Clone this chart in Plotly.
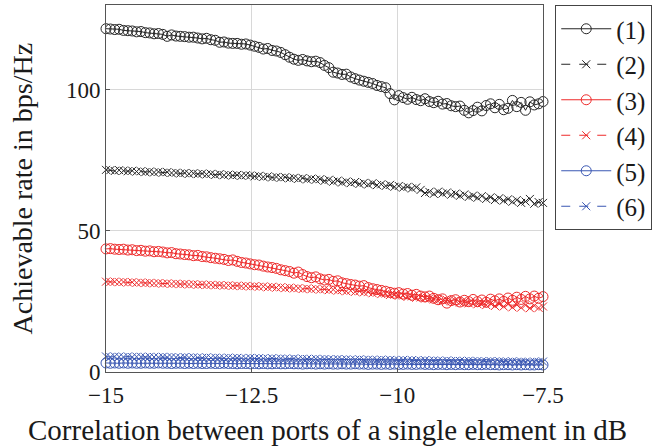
import numpy as np
import plotly.graph_objects as go

# Correlation sweep (dB), 101 points from -15 to -7.5
corr_db = np.linspace(-15.0, -7.5, 101)

rate_1 = [
    121.6, 121.5, 121.3, 121.4, 121.0, 120.9, 120.8, 120.5, 120.6, 120.2,
    120.1, 119.8, 119.9, 119.6, 118.9, 119.4, 119.0, 118.9, 118.8, 118.6,
    118.6, 118.3, 118.0, 118.2, 117.7, 117.5, 116.8, 116.9, 116.5, 116.4,
    116.4, 116.1, 116.2, 115.8, 115.4, 115.0, 114.4, 114.6, 113.9, 113.7,
    113.2, 112.4, 111.5, 110.8, 110.4, 110.7, 110.2, 109.9, 110.1, 109.6,
    108.6, 107.8, 106.2, 105.9, 105.4, 105.5, 104.5, 103.9, 103.4, 103.0,
    102.6, 102.2, 101.5, 101.1, 100.7, 98.6, 96.4, 97.9, 97.2, 96.6,
    97.3, 96.5, 96.1, 96.8, 95.8, 95.4, 95.9, 94.9, 95.1, 94.3,
    94.0, 94.2, 92.7, 91.8, 92.6, 93.8, 92.5, 94.4, 95.0, 93.6,
    94.8, 92.9, 93.4, 96.2, 94.0, 95.5, 92.7, 95.7, 94.6, 95.0,
    95.8,
]
rate_2 = [
    71.6, 71.5, 71.2, 71.5, 71.3, 71.1, 71.3, 71.0, 71.1, 70.8,
    71.0, 70.7, 70.9, 70.6, 70.8, 70.5, 70.6, 70.3, 70.5, 70.2,
    70.4, 70.1, 70.3, 70.0, 70.2, 69.8, 70.1, 69.7, 69.9, 69.6,
    69.8, 69.5, 69.7, 69.6, 69.3, 69.5, 69.1, 69.3, 68.9, 69.1,
    68.8, 69.0, 68.6, 68.8, 68.4, 68.7, 68.2, 68.5, 68.1, 68.3,
    67.7, 68.1, 67.4, 67.8, 67.1, 67.5, 66.9, 67.3, 66.6, 67.0,
    66.4, 66.9, 66.2, 66.5, 65.9, 66.3, 65.6, 65.9, 65.3, 65.6,
    65.0, 65.4, 64.5, 63.4, 63.8, 63.1, 63.9, 63.2, 63.6, 62.8,
    63.2, 62.4, 62.9, 62.0, 62.5, 61.7, 62.3, 61.3, 61.9, 60.9,
    61.6, 60.7, 61.2, 60.3, 60.9, 59.9, 60.4, 61.3, 59.6, 60.2,
    59.9,
]
rate_3 = [
    43.6, 43.7, 43.5, 43.4, 43.5, 43.2, 43.3, 43.0, 43.1, 42.8,
    42.9, 42.6, 42.7, 42.5, 42.2, 42.3, 41.9, 41.8, 41.6, 41.5,
    41.2, 41.3, 40.9, 40.8, 40.5, 40.3, 40.1, 39.9, 39.5, 39.7,
    39.2, 38.8, 38.6, 38.3, 38.0, 37.9, 37.5, 37.2, 37.0, 36.7,
    36.2, 35.9, 35.6, 35.0, 35.4, 34.5, 33.8, 33.4, 33.7, 33.0,
    32.6, 32.8, 32.1, 32.3, 31.6, 31.3, 31.0, 30.8, 30.4, 30.6,
    29.9, 29.5, 29.2, 28.9, 28.6, 28.2, 27.9, 28.1, 27.6, 27.8,
    27.2, 27.5, 26.9, 26.6, 26.9, 26.1, 25.6, 25.9, 24.4, 25.3,
    25.6, 24.8, 25.4, 24.9, 25.7, 24.9, 25.5, 24.7, 25.8, 25.2,
    25.9, 25.0, 26.2, 25.4, 26.5, 25.7, 26.8, 25.9, 26.9, 26.1,
    26.7,
]
rate_4 = [
    32.0, 31.9, 32.0, 31.8, 31.9, 31.7, 31.8, 31.6, 31.7, 31.5,
    31.6, 31.4, 31.5, 31.3, 31.4, 31.2, 31.3, 31.1, 31.2, 31.0,
    31.1, 30.9, 31.0, 30.8, 30.9, 30.7, 30.8, 30.6, 30.7, 30.5,
    30.6, 30.4, 30.5, 30.3, 30.4, 30.2, 30.3, 30.0, 30.2, 29.9,
    30.0, 29.7, 29.9, 29.6, 29.7, 29.4, 29.6, 29.3, 29.5, 29.2,
    29.3, 29.0, 29.2, 28.8, 29.0, 28.6, 28.8, 28.4, 28.6, 28.2,
    28.3, 27.9, 28.1, 27.6, 27.8, 27.3, 27.4, 27.0, 27.1, 26.6,
    26.8, 26.3, 26.4, 26.0, 26.1, 25.7, 25.8, 25.3, 25.5, 25.0,
    25.2, 24.6, 24.9, 24.3, 24.6, 24.0, 24.4, 23.7, 24.3, 23.4,
    24.1, 23.2, 24.0, 22.9, 23.8, 22.8, 23.7, 22.6, 23.5, 22.7,
    23.2,
]
rate_5 = [
    3.2, 3.1, 3.2, 3.1, 3.2, 3.1, 3.2, 3.1, 3.1, 3.2,
    3.1, 3.1, 3.2, 3.1, 3.1, 3.0, 3.1, 3.1, 3.0, 3.1,
    3.0, 3.1, 3.0, 3.0, 3.1, 3.0, 3.0, 3.1, 3.0, 3.0,
    2.9, 3.0, 3.0, 2.9, 3.0, 2.9, 3.0, 2.9, 2.9, 3.0,
    2.9, 2.9, 3.0, 2.9, 2.9, 2.8, 2.9, 2.9, 2.8, 2.9,
    2.8, 2.9, 2.8, 2.8, 2.9, 2.8, 2.8, 2.9, 2.8, 2.8,
    2.7, 2.8, 2.8, 2.7, 2.8, 2.7, 2.8, 2.7, 2.7, 2.8,
    2.7, 2.7, 2.8, 2.7, 2.7, 2.6, 2.7, 2.7, 2.6, 2.7,
    2.6, 2.7, 2.6, 2.6, 2.7, 2.6, 2.6, 2.7, 2.6, 2.6,
    2.5, 2.6, 2.6, 2.5, 2.6, 2.5, 2.6, 2.5, 2.5, 2.6,
    2.5,
]
rate_6 = [
    5.5, 5.3, 5.5, 5.4, 5.3, 5.5, 5.3, 5.4, 5.4, 5.2,
    5.4, 5.3, 5.2, 5.4, 5.2, 5.3, 5.2, 5.1, 5.3, 5.1,
    5.2, 5.1, 5.0, 5.2, 5.0, 5.1, 5.0, 4.9, 5.1, 4.9,
    5.0, 4.9, 4.8, 5.0, 4.8, 4.9, 4.8, 4.7, 4.9, 4.7,
    4.8, 4.7, 4.6, 4.8, 4.6, 4.7, 4.6, 4.5, 4.7, 4.5,
    4.6, 4.5, 4.4, 4.6, 4.4, 4.5, 4.4, 4.3, 4.5, 4.3,
    4.4, 4.3, 4.2, 4.4, 4.2, 4.3, 4.2, 4.1, 4.3, 4.1,
    4.2, 4.1, 4.0, 4.2, 4.0, 4.1, 4.0, 3.9, 4.1, 3.9,
    4.0, 3.9, 3.8, 4.0, 3.8, 3.9, 3.8, 3.7, 3.9, 3.7,
    3.8, 3.7, 3.6, 3.8, 3.6, 3.7, 3.6, 3.5, 3.7, 3.6,
    3.7,
]

series_names = ["(1)", "(2)", "(3)", "(4)", "(5)", "(6)"]
x_ticks = [-15, -12.5, -10, -7.5]
x_tick_text = ["\u221215", "\u221212.5", "\u221210", "\u22127.5"]
y_ticks = [0, 50, 100]

BLACK = "#262626"
RED = "#ee2a2a"
BLUE = "#3a57b3"
FONT = "Liberation Serif, Times New Roman, serif"

styles = [
    (rate_1, BLACK, "solid", "circle-open"),
    (rate_2, BLACK, "dash", "x-thin-open"),
    (rate_3, RED, "solid", "circle-open"),
    (rate_4, RED, "dash", "x-thin-open"),
    (rate_5, BLUE, "solid", "circle-open"),
    (rate_6, BLUE, "dash", "x-thin-open"),
]

fig = go.Figure()
for name, (vals, color, dash, symbol) in zip(series_names, styles):
    circ = symbol == "circle-open"
    fig.add_trace(go.Scatter(
        x=corr_db, y=vals, name=name, mode="lines+markers",
        line=dict(color=color, width=1, dash=dash),
        marker=dict(symbol=symbol, size=10 if circ else 8, color=color,
                    line=dict(color=color, width=1)),
        cliponaxis=False,
    ))

fig.update_layout(
    width=657, height=446,
    margin=dict(l=106, r=114, t=5, b=74),
    paper_bgcolor="white", plot_bgcolor="white",
    font=dict(family=FONT, size=23, color="#1a1a1a"),
    showlegend=True,
    legend=dict(
        x=1.028, y=1.0, xanchor="left", yanchor="top",
        bordercolor="#444", borderwidth=1, bgcolor="white",
        font=dict(family=FONT, size=25, color="#1a1a1a"),
        itemwidth=50, tracegroupgap=0,
    ),
    xaxis=dict(
        range=[-15, -7.5], tickvals=x_ticks, ticktext=x_tick_text,
        showgrid=True, gridcolor="#d8d8d8", gridwidth=1,
        showline=True, linecolor="#555", linewidth=1, mirror=True,
        ticks="inside", ticklen=4, tickcolor="#555", zeroline=False,
        ticklabelstandoff=2,
    ),
    yaxis=dict(
        range=[0, 130], tickvals=y_ticks,
        showgrid=True, gridcolor="#d8d8d8", gridwidth=1,
        showline=True, linecolor="#555", linewidth=1, mirror=True,
        ticks="inside", ticklen=4, tickcolor="#555", zeroline=False,
    ),
    annotations=[
        dict(text="Correlation between ports of a single element in dB",
             xref="paper", yref="paper", x=0.5, y=-0.158,
             xanchor="center", yanchor="middle", showarrow=False,
             font=dict(family=FONT, size=29, color="#1a1a1a"), xshift=3),
        dict(text="Achievable rate in bps/Hz",
             xref="paper", yref="paper", x=-0.19, y=0.5,
             xanchor="center", yanchor="middle", showarrow=False,
             textangle=-90, font=dict(family=FONT, size=28, color="#1a1a1a")),
    ],
)

fig.write_html("out.html")
